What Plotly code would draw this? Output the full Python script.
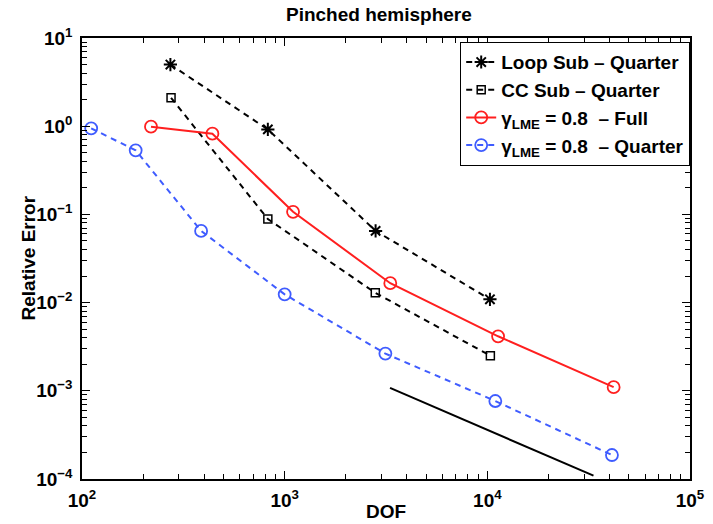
import plotly.graph_objects as go

# ---- data ----
loop_dof = [273, 826, 2810, 10300]
loop_err = [5.0, 0.92, 0.065, 0.0109]

cc_dof = [275, 826, 2800, 10350]
cc_err = [2.1, 0.0887, 0.0129, 0.0025]

full_dof = [219, 440, 1100, 3320, 11300, 42000]
full_err = [0.987, 0.822, 0.107, 0.0166, 0.00415, 0.0011]

quarter_dof = [111, 184, 387, 1000, 3140, 10950, 41200]
quarter_err = [0.946, 0.533, 0.065, 0.0124, 0.00264, 0.000766, 0.000187]

ref_dof = [3310, 33400]
ref_err = [0.00108, 0.000109]

x_tickvals = [1e2, 1e3, 1e4, 1e5]
x_ticktext = ["10<sup>2</sup>", "10<sup>3</sup>", "10<sup>4</sup>", "10<sup>5</sup>"]
y_tickvals = [1e-4, 1e-3, 1e-2, 1e-1, 1e0, 1e1]
y_ticktext = ["10<sup>\u22124</sup>", "10<sup>\u22123</sup>", "10<sup>\u22122</sup>",
              "10<sup>\u22121</sup>", "10<sup>0</sup>", "10<sup>1</sup>"]

names = ["Loop Sub \u2013 Quarter", "CC Sub \u2013 Quarter",
         "\u03b3<sub>LME</sub> = 0.8 \u00a0\u2013 Full",
         "\u03b3<sub>LME</sub> = 0.8 \u00a0\u2013 Quarter"]
x_title = "DOF"
y_title = "Relative Error"

FONT = "Liberation Sans, Arial, Helvetica, sans-serif"
BLUE = "#3f5cff"
RED = "#ff1f1f"
DASH = "6px,5px"
TXT = dict(family=FONT, size=19, color="black", weight="bold")

fig = go.Figure()
fig.add_trace(go.Scatter(x=loop_dof, y=loop_err, name=names[0], mode="lines+markers",
                         line=dict(color="black", width=2, dash=DASH),
                         marker=dict(symbol="asterisk-open", size=11, color="black",
                                     line=dict(color="black", width=2))))
fig.add_trace(go.Scatter(x=cc_dof, y=cc_err, name=names[1], mode="lines+markers",
                         line=dict(color="black", width=2, dash=DASH),
                         marker=dict(symbol="square-open", size=8, color="black",
                                     line=dict(color="black", width=1.5))))
fig.add_trace(go.Scatter(x=full_dof, y=full_err, name=names[2], mode="lines+markers",
                         line=dict(color=RED, width=2),
                         marker=dict(symbol="circle-open", size=12, color=RED,
                                     line=dict(color=RED, width=1.8))))
fig.add_trace(go.Scatter(x=quarter_dof, y=quarter_err, name=names[3], mode="lines+markers",
                         line=dict(color=BLUE, width=2, dash=DASH),
                         marker=dict(symbol="circle-open", size=12, color=BLUE,
                                     line=dict(color=BLUE, width=1.8))))
fig.add_trace(go.Scatter(x=ref_dof, y=ref_err, mode="lines", showlegend=False,
                         line=dict(color="black", width=2)))

x_minor = [k * 10 ** e for e in range(2, 5) for k in range(2, 10)]
y_minor = [k * 10.0 ** e for e in range(-4, 1) for k in range(2, 10)]

axis_common = dict(
    type="log", showgrid=False, zeroline=False, showline=True, linecolor="black",
    linewidth=1.5, mirror="allticks", ticks="inside", ticklen=8, tickwidth=1.2,
    tickcolor="black", tickmode="array", automargin=False,
    tickfont=TXT,
)

fig.update_xaxes(**axis_common, range=[2, 5], tickvals=x_tickvals, ticktext=x_ticktext,
                 ticklabelstandoff=3,
                 minor=dict(ticks="inside", ticklen=5, tickwidth=1, tickcolor="black",
                            tickmode="array", tickvals=x_minor, showgrid=False))
fig.update_yaxes(**axis_common, range=[-4, 1], tickvals=y_tickvals, ticktext=y_ticktext,
                 ticklabelstandoff=4,
                 minor=dict(ticks="inside", ticklen=5, tickwidth=1, tickcolor="black",
                            tickmode="array", tickvals=y_minor, showgrid=False))

fig.add_annotation(text=x_title, xref="paper", yref="paper", x=0.5, y=0,
                   xanchor="center", yanchor="top", yshift=-20, showarrow=False, font=TXT)
fig.add_annotation(text=y_title, xref="paper", yref="paper", x=0, y=0.5,
                   xanchor="center", yanchor="middle", xshift=-54, textangle=-90,
                   showarrow=False, font=TXT)

fig.update_layout(
    width=713, height=524,
    margin=dict(l=82, r=23, t=38, b=45),
    paper_bgcolor="white", plot_bgcolor="white",
    title=dict(text="Pinched hemisphere", x=0.5314, xanchor="center", y=0.972, yanchor="middle",
               font=TXT),
    legend=dict(x=1.0, xanchor="right", y=0.991, yanchor="top",
                bgcolor="white", bordercolor="black", borderwidth=1.2,
                font=TXT, itemwidth=30, tracegroupgap=0),
    showlegend=True,
)

fig.write_html("out.html")
